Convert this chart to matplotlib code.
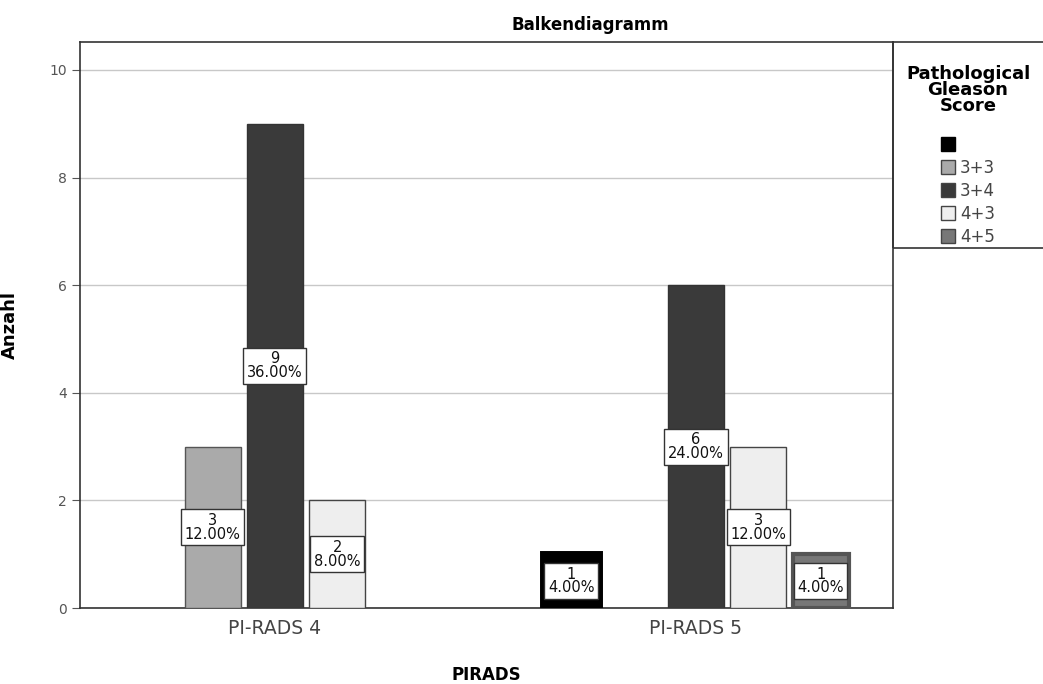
import numpy as np
import matplotlib.pyplot as plt
from matplotlib.patches import Rectangle, Patch

# data
groups = ["PI-RADS 4", "PI-RADS 5"]
scores = ["", "3+3", "3+4", "4+3", "4+5"]
counts_pirads4 = [0, 3, 9, 2, 0]
counts_pirads5 = [1, 0, 6, 3, 1]
total_n = 25

colors = ["#000000", "#aaaaaa", "#3a3a3a", "#eeeeee", "#777777"]
edges = ["#000000", "#555555", "#333333", "#444444", "#555555"]

fig = plt.figure(figsize=(10.43, 6.84), dpi=100)
ax = fig.add_axes([80 / 1043, 76 / 684, 813 / 1043, 566 / 684])

slot = 0.148
width = 0.133
counts = np.array([counts_pirads4, counts_pirads5])
x = np.arange(len(groups))

for j, s in enumerate(scores):
    vals = counts[:, j]
    pos = x + (j - 2) * slot
    for xi, v in zip(pos, vals):
        if v == 0:
            continue
        lw = 5 if j == 0 else (3 if j == 4 else 1.0)
        ax.bar(xi, v, width=width, color=colors[j], edgecolor=edges[j],
               linewidth=lw, zorder=3)
        ax.text(xi, v / 2, f"{v}\n{v / total_n * 100:.2f}%", ha="center",
                va="center", fontsize=10.5, color="#111111", zorder=4,
                linespacing=0.9,
                bbox=dict(boxstyle="square,pad=0.25", fc="white",
                          ec="#333333", lw=1.0))

ax.set_xlim(-0.463, 1.468)
ax.set_ylim(0, 10.52)
ax.set_yticks([0, 2, 4, 6, 8, 10])
ax.yaxis.grid(True, color="#c8c8c8", lw=1.0, zorder=0)
ax.set_axisbelow(True)
ax.set_xticks(x)
ax.set_xticklabels(groups, fontsize=13.5, color="#444444")
ax.tick_params(axis="y", labelsize=10, colors="#555555", length=6,
               width=0.8, direction="out")
ax.tick_params(axis="x", length=0, pad=8)
for sp in ax.spines.values():
    sp.set_color("#333333")
    sp.set_linewidth(1.2)

ax.set_ylabel("Anzahl", fontsize=13, fontweight="bold", labelpad=22)
ax.set_xlabel("PIRADS", fontsize=12, fontweight="bold", labelpad=20)
fig.text(590 / 1043, 1 - 25 / 684, "Balkendiagramm", fontsize=12,
         fontweight="bold", ha="center", va="center")

# legend panel to the right of the plot
fig.patches.append(Rectangle((893 / 1043, 436 / 684), 160 / 1043, 206 / 684,
                             transform=fig.transFigure, fill=False,
                             ec="#333333", lw=1.2))
handles = [Patch(facecolor=c, edgecolor="#444444" if i else "#000000", lw=1.0)
           for i, c in enumerate(colors)]
leg = fig.legend(handles, scores, title="Pathological\nGleason\nScore\n",
                 loc="upper center", bbox_to_anchor=(968 / 1043, 634 / 684),
                 frameon=False, fontsize=12, handlelength=0.85,
                 handleheight=0.85, handletextpad=0.3, labelspacing=0.3,
                 title_fontproperties={"weight": "bold", "size": 13})
leg.get_title().set_multialignment("center")
leg.get_title().set_linespacing(0.85)
for t in leg.get_texts():
    t.set_color("#444444")

fig.savefig("out.png", dpi=100)
